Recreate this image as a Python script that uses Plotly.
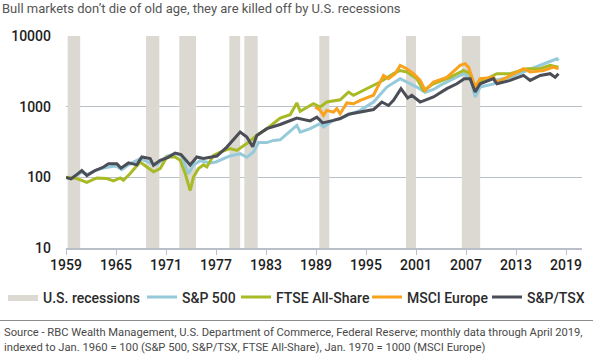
import plotly.graph_objects as go

# ---- data (x positions in the chart's axis years) ----
rec_start = [1959.2, 1968.6, 1972.6, 1978.6, 1980.4, 1989.4, 1999.8, 2006.5]
rec_end   = [1960.7, 1970.2, 1974.6, 1979.9, 1982.0, 1990.6, 2001.0, 2008.7]

sp_x = [1959.0, 1959.5, 1960.9, 1961.6, 1962.5, 1963.5, 1964.5, 1965.0, 1965.7, 1966.5,
        1967.9, 1969.1, 1969.9, 1970.5, 1971.1, 1972.3, 1972.9, 1973.7, 1974.3, 1975.1,
        1976.3, 1977.0, 1977.8, 1978.6, 1979.9, 1980.7, 1981.5, 1982.1, 1983.1, 1983.9,
        1984.7, 1985.5, 1986.7, 1987.1, 1988.3, 1989.5, 1989.9, 1991.1, 1991.9, 1992.7,
        1994.3, 1995.9, 1997.5, 1999.1, 2000.3, 2001.1, 2002.1, 2003.1, 2003.9, 2005.5,
        2006.7, 2007.5, 2008.1, 2008.7, 2010.3, 2010.7, 2012.3, 2014.3, 2015.9, 2017.1,
        2017.9, 2018.1]
sp_y = [100, 96, 118, 110, 125, 135, 142, 145, 128, 150,
        184, 160, 150, 175, 200, 216, 200, 112, 150, 172,
        160, 165, 180, 200, 216, 192, 228, 310, 310, 333,
        340, 415, 544, 437, 488, 575, 515, 640, 673, 753,
        886, 1163, 1895, 2490, 2110, 1895, 1600, 1750, 2000, 2490,
        2930, 2600, 1370, 1895, 2100, 2400, 2600, 3250, 3840, 4270,
        4760, 4500]

ftse_x = [1959.0, 1960.3, 1961.5, 1962.7, 1963.9, 1964.7, 1965.5, 1965.9, 1966.7, 1967.9,
          1968.7, 1969.5, 1970.3, 1971.1, 1972.1, 1972.7, 1973.3, 1973.9, 1974.3, 1974.9,
          1975.5, 1975.9, 1976.7, 1977.5, 1978.7, 1979.5, 1980.3, 1980.7, 1981.9, 1983.1,
          1984.7, 1985.9, 1986.7, 1987.1, 1988.3, 1988.7, 1989.5, 1990.3, 1991.9, 1992.9,
          1993.5, 1995.1, 1996.7, 1998.3, 1999.1, 1999.9, 2001.1, 2001.9, 2003.1, 2005.1,
          2006.7, 2007.5, 2008.1, 2008.7, 2010.7, 2012.3, 2014.3, 2015.9, 2017.1, 2018.1]
ftse_y = [100, 96, 85, 98, 96, 89, 98, 91, 113, 165,
          140, 120, 133, 194, 194, 174, 113, 65, 101, 133,
          150, 140, 205, 228, 255, 240, 280, 300, 393, 488,
          690, 770, 1130, 860, 1040, 1100, 990, 1163, 1250, 1610,
          1450, 1800, 2230, 2930, 3250, 3100, 2490, 1700, 2110, 2600,
          3250, 2930, 1700, 2230, 2930, 2930, 3440, 3440, 3840, 3630]

msci_x = [1988.9, 1989.5, 1989.9, 1990.3, 1991.1, 1991.5, 1991.9, 1992.7, 1993.5, 1994.3,
          1995.9, 1997.1, 1997.7, 1998.5, 1999.1, 1999.9, 2000.7, 2001.5, 2002.1, 2003.1,
          2004.7, 2006.3, 2006.9, 2007.3, 2008.1, 2008.7, 2010.3, 2010.7, 2011.9, 2013.9,
          2014.7, 2016.3, 2017.5, 2018.1]
msci_y = [990, 886, 753, 886, 837, 940, 794, 1130, 1100, 1230,
          1450, 2770, 2490, 2930, 3840, 3440, 2930, 2350, 1700, 2230,
          2600, 3840, 4060, 3630, 1895, 2490, 2600, 2230, 2600, 3440,
          3100, 3250, 3630, 3440]

tsx_x = [1959.0, 1959.6, 1960.4, 1960.9, 1961.5, 1962.5, 1963.5, 1964.1, 1965.1, 1965.6,
         1966.5, 1967.5, 1968.1, 1969.1, 1969.5, 1970.3, 1971.2, 1972.1, 1972.8, 1973.9,
         1974.7, 1975.5, 1977.1, 1978.3, 1979.9, 1980.7, 1981.4, 1981.9, 1983.1, 1984.7,
         1986.7, 1988.3, 1989.1, 1989.8, 1991.1, 1991.9, 1992.9, 1993.9, 1995.9, 1996.9,
         1997.7, 1998.3, 1999.2, 2000.0, 2000.5, 2001.5, 2003.1, 2004.7, 2005.9, 2006.8,
         2007.5, 2008.1, 2008.7, 2010.3, 2010.7, 2012.3, 2013.9, 2014.7, 2015.9, 2017.1,
         2017.7, 2018.1]
tsx_y = [100, 95, 112, 125, 106, 125, 140, 156, 156, 135,
         160, 150, 194, 184, 148, 174, 190, 221, 210, 150,
         194, 185, 200, 268, 437, 372, 270, 390, 488, 560,
         690, 630, 712, 590, 640, 680, 780, 820, 910, 1163,
         1040, 1230, 1800, 1330, 1450, 1163, 1370, 1800, 2110, 2490,
         2490, 1610, 2110, 2490, 2110, 2350, 2770, 2350, 2770, 2930,
         2600, 2930]

x_ticks = [1959, 1965, 1971, 1977, 1983, 1989, 1995, 2001, 2007, 2013, 2019]
y_ticks = [10, 100, 1000, 10000]

names = ["U.S. recessions", "S&P 500", "FTSE All-Share", "MSCI Europe", "S&P/TSX"]
colors = ["#dcd9d2", "#95cadb", "#a9ba27", "#f8a21e", "#4b4e56"]

title = "Bull markets don\u2019t die of old age, they are killed off by U.S. recessions"
source = ("Source - RBC Wealth Management, U.S. Department of Commerce, Federal Reserve; monthly data through April 2019,"
          "<br>indexed to Jan. 1960 = 100 (S&P 500, S&P/TSX, FTSE All-Share), Jan. 1970 = 1000 (MSCI Europe)")

# ---- figure ----
W, H = 593, 354
ml, mr, mt, mb = 66, 11, 36, 106
pw, ph = W - ml - mr, H - mt - mb

rx, ry = [], []
for s, e in zip(rec_start, rec_end):
    rx += [s, s, e, e, s, None]
    ry += [y_ticks[0], y_ticks[-1], y_ticks[-1], y_ticks[0], y_ticks[0], None]

fig = go.Figure()
fig.add_trace(go.Scatter(x=rx, y=ry, fill="toself", fillcolor=colors[0], mode="lines",
                         line=dict(width=0, color=colors[0]), name=names[0],
                         hoverinfo="skip", legend="legend"))
series = [(sp_x, sp_y), (ftse_x, ftse_y), (msci_x, msci_y), (tsx_x, tsx_y)]
legends = ["legend2", "legend3", "legend4", "legend5"]
for (xs, ys), nm, col, lg in zip(series, names[1:], colors[1:], legends):
    fig.add_trace(go.Scatter(x=xs, y=ys, mode="lines", name=nm,
                             line=dict(color=col, width=3), legend=lg))

leg_font = dict(family="Roboto", size=14, color="#2b2b2b", weight=500)
icon_px = [8, 147, 241, 372, 492]
leg_y = 1 - 297.5 / H
common = dict(orientation="h", xref="container", yref="container", yanchor="middle",
              y=leg_y, font=leg_font, bgcolor="rgba(0,0,0,0)", borderwidth=0)
legend_layout = {}
for i, key in enumerate(["legend", "legend2", "legend3", "legend4", "legend5"]):
    legend_layout[key] = dict(x=(icon_px[i] - 5) / W, xanchor="left", **common)

fig.update_layout(
    width=W, height=H,
    margin=dict(l=ml, r=mr, t=mt, b=mb, autoexpand=False),
    paper_bgcolor="white", plot_bgcolor="white",
    showlegend=True,
    title=dict(text=title, xref="container", yref="container", x=2 / W, xanchor="left",
               y=1 - 8 / H, yanchor="middle",
               font=dict(family="Roboto", size=13, color="#555555")),
    xaxis=dict(range=[1959, 1959 + pw / (500 / 60)], tickvals=x_ticks,
               ticks="outside", ticklen=5, tickcolor="#b9c0c8", tickwidth=1,
               showline=True, linecolor="#b9c0c8", linewidth=1.5,
               showgrid=False, zeroline=False, ticklabelstandoff=-2, automargin=False,
               tickfont=dict(family="Roboto", size=14, color="#1e1e1e", weight=500)),
    yaxis=dict(type="log", range=[1, 4], tickvals=y_ticks, ticktext=[str(v) for v in y_ticks],
               showgrid=True, gridcolor="#b9c0c8", gridwidth=1, zeroline=False,
               showline=False, ticks="", ticklabelstandoff=14, automargin=False,
               tickfont=dict(family="Roboto", size=14, color="#1e1e1e", weight=500)),
    **legend_layout,
)

fig.add_annotation(text=source, xref="paper", yref="paper",
                   x=(2 - ml) / pw, y=(H - mb - 324) / ph, xanchor="left", yanchor="top",
                   align="left", showarrow=False,
                   font=dict(family="Roboto", size=11.2, color="#4a4a4a"))
fig.add_shape(type="line", xref="paper", yref="paper",
              x0=-ml / pw, x1=(W - ml) / pw, y0=(H - mb - 320.5) / ph, y1=(H - mb - 320.5) / ph,
              line=dict(color="#8c8c8c", width=1))

fig.write_html("out.html")
